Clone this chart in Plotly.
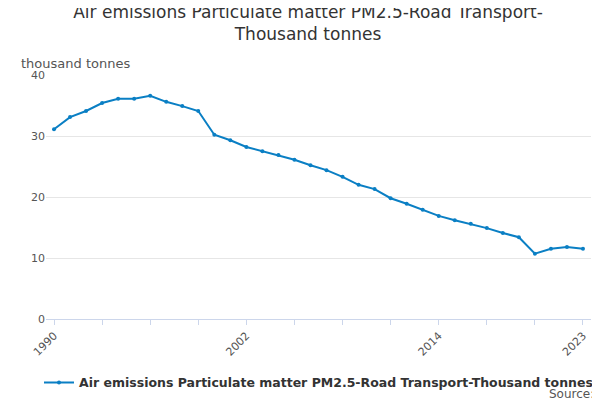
import plotly.graph_objects as go

years = list(range(1990, 2024))
values = [31.1, 33.1, 34.1, 35.4, 36.1, 36.1, 36.6, 35.6, 34.9, 34.1,
          30.2, 29.3, 28.2, 27.5, 26.9, 26.1, 25.2, 24.4, 23.3, 22.0,
          21.3, 19.8, 18.9, 17.9, 16.9, 16.2, 15.6, 14.9, 14.1, 13.4,
          10.7, 11.5, 11.8, 11.5]
tick_years = [1990, 2002, 2014, 2023]
series_name = "<b>Air emissions Particulate matter PM2.5-Road Transport-Thousand tonnes</b>"

fig = go.Figure(go.Scatter(
    x=years, y=values, mode="lines+markers", name=series_name,
    line=dict(color="#0a7fc4", width=2), marker=dict(size=4, color="#0a7fc4"),
))

fig.update_layout(
    width=600, height=400,
    font=dict(family="DejaVu Sans", color="#333"),
    title=dict(text="Air emissions Particulate matter PM2.5-Road Transport-<br>Thousand tonnes",
               x=0.5, xanchor="center", yref="container", y=0.975, yanchor="top",
               font=dict(size=17)),
    plot_bgcolor="white", paper_bgcolor="white",
    margin=dict(l=38, r=17, t=67, b=89, autoexpand=False),
    showlegend=True,
    legend=dict(orientation="h", x=0.5, xanchor="center", y=-0.2, font=dict(size=12.5)),
    annotations=[
        dict(text="thousand tonnes", xref="paper", yref="paper", x=-0.05, y=1.01,
             xanchor="left", yanchor="bottom", showarrow=False, font=dict(size=13, color="#555")),
        dict(text="Source:", xref="paper", yref="paper", x=1.01, y=-0.27,
             xanchor="right", yanchor="top", showarrow=False, font=dict(size=12, color="#555")),
    ],
)
fig.update_xaxes(range=[1989.5, 2023.5], tickvals=tick_years, tickangle=-45, automargin=False,
                 showgrid=False, showline=True, linecolor="#ccd6eb",
                 ticks="outside", tickcolor="#ccd6eb",
                 minor=dict(tickvals=list(range(1990, 2024, 3)), ticks="outside", ticklen=5, tickcolor="#ccd6eb"),
                 tickfont=dict(size=11, color="#555"))
fig.update_yaxes(range=[0, 40], dtick=10, gridcolor="#e6e6e6", zeroline=False, automargin=False,
                 tickfont=dict(size=11, color="#555"))

fig.write_html("out.html")
